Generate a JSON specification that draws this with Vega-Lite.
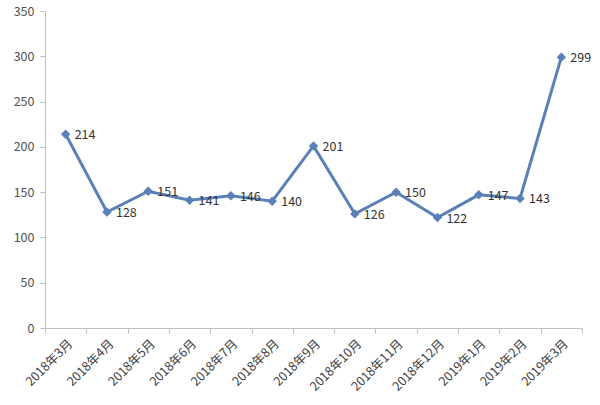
{
  "$schema": "https://vega.github.io/schema/vega-lite/v6.json",
  "width": 537,
  "height": 317,
  "autosize": "none",
  "padding": {"left": 45, "top": 11, "right": 18, "bottom": 77},
  "background": "white",
  "config": {"view": {"stroke": null}, "font": "Noto Sans CJK SC"},
  "data": {"values": [
    {"month": "2018年3月", "value": 214},
    {"month": "2018年4月", "value": 128},
    {"month": "2018年5月", "value": 151},
    {"month": "2018年6月", "value": 141},
    {"month": "2018年7月", "value": 146},
    {"month": "2018年8月", "value": 140},
    {"month": "2018年9月", "value": 201},
    {"month": "2018年10月", "value": 126},
    {"month": "2018年11月", "value": 150},
    {"month": "2018年12月", "value": 122},
    {"month": "2019年1月", "value": 147},
    {"month": "2019年2月", "value": 143},
    {"month": "2019年3月", "value": 299}
  ]},
  "encoding": {
    "x": {"field": "month", "type": "nominal", "sort": null,
      "scale": {"type": "band", "paddingInner": 0, "paddingOuter": 0},
      "axis": {"title": null, "labelAngle": -45, "labelFontSize": 12.5, "labelColor": "#404040",
        "tickBand": "extent", "domainColor": "#BFBFBF", "tickColor": "#BFBFBF", "tickSize": 5, "labelPadding": 4}},
    "y": {"field": "value", "type": "quantitative",
      "scale": {"domain": [0, 350]},
      "axis": {"title": null, "values": [0, 50, 100, 150, 200, 250, 300, 350], "grid": false,
        "labelFontSize": 12.5, "labelColor": "#505050", "domainColor": "#BFBFBF", "tickColor": "#BFBFBF", "tickSize": 5, "labelPadding": 6}}
  },
  "layer": [
    {"mark": {"type": "line", "color": "#5A80B8", "strokeWidth": 3}},
    {"mark": {"type": "point", "shape": "diamond", "filled": true, "size": 90, "color": "#5A80B8", "opacity": 1}},
    {"mark": {"type": "text", "align": "left", "baseline": "middle", "dx": 9, "dy": 1, "fontSize": 12.5, "color": "#333333"},
      "encoding": {"text": {"field": "value", "type": "quantitative"}}}
  ]
}
